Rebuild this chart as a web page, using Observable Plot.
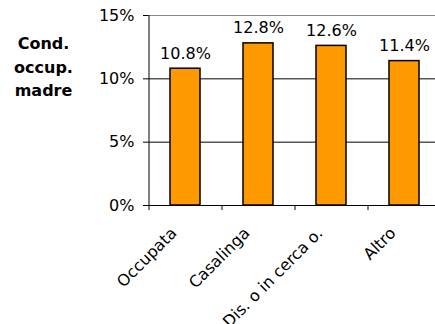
<!DOCTYPE html>
<html><head><meta charset="utf-8">
<script src="https://cdn.jsdelivr.net/npm/d3@7"></script>
<script src="https://cdn.jsdelivr.net/npm/@observablehq/plot@0.6"></script>
<style>body{margin:0;background:#fff;} svg{display:block;}</style>
</head><body>
<div id="chart"></div>
<script>
const categories = ["Occupata", "Casalinga", "Dis. o in cerca o.", "Altro"];
const values = [0.108, 0.128, 0.126, 0.114];
const yTicks = [0, 0.05, 0.10, 0.15];
const title = "Cond.\noccup.\nmadre";

const data = categories.map((c, i) => ({cat: c, value: values[i]}));
const fmt = d3.format(".1%");

const chart = Plot.plot({
  width: 435, height: 324,
  marginLeft: 148, marginRight: 0, marginTop: 15, marginBottom: 119,
  style: {fontFamily: "DejaVu Sans, Verdana, sans-serif", fontSize: "16px", color: "#000", background: "#fff"},
  x: {domain: categories, range: [148, 440], paddingInner: 0.59, paddingOuter: 0.295, axis: null},
  y: {domain: [0, 0.15], ticks: yTicks, tickFormat: d3.format(".0%"), tickSize: 5, tickPadding: 9, label: null},
  marks: [
    Plot.ruleY([0.15], {stroke: "#888", strokeWidth: 1}),
    Plot.ruleY([0.05, 0.10], {stroke: "#000", strokeWidth: 1}),
    Plot.barY(data, {x: "cat", y: "value", fill: "#FF9900", stroke: "#000", strokeWidth: 1.5}),
    Plot.ruleX([categories[0]], {x: d => d, y1: 0, y2: 0.15, dx: -36.5, stroke: "#000"}),
    Plot.ruleX(categories, {x: d => d, y1: 0, y2: 0, insetBottom: -5, dx: -36.5, stroke: "#000"}),
    Plot.ruleY([0], {stroke: "#000", strokeWidth: 1}),
    Plot.text(data, {x: "cat", y: "value", text: d => fmt(d.value), dy: -15.3, fontSize: 16, fill: "#000"}),
    Plot.text(categories, {x: d => d, y: 0, text: d => d, rotate: -45, textAnchor: "end", dx: -11.5, dy: 25, fontSize: 16, fill: "#000"}),
    Plot.text([title], {text: d => d, frameAnchor: "top-left", dx: -105, dy: 17, lineAnchor: "top", textAnchor: "middle", fontWeight: "bold", fontSize: 16, lineHeight: 1.47, fill: "#000"})
  ]
});
document.getElementById("chart").appendChild(chart);
</script>
</body></html>
